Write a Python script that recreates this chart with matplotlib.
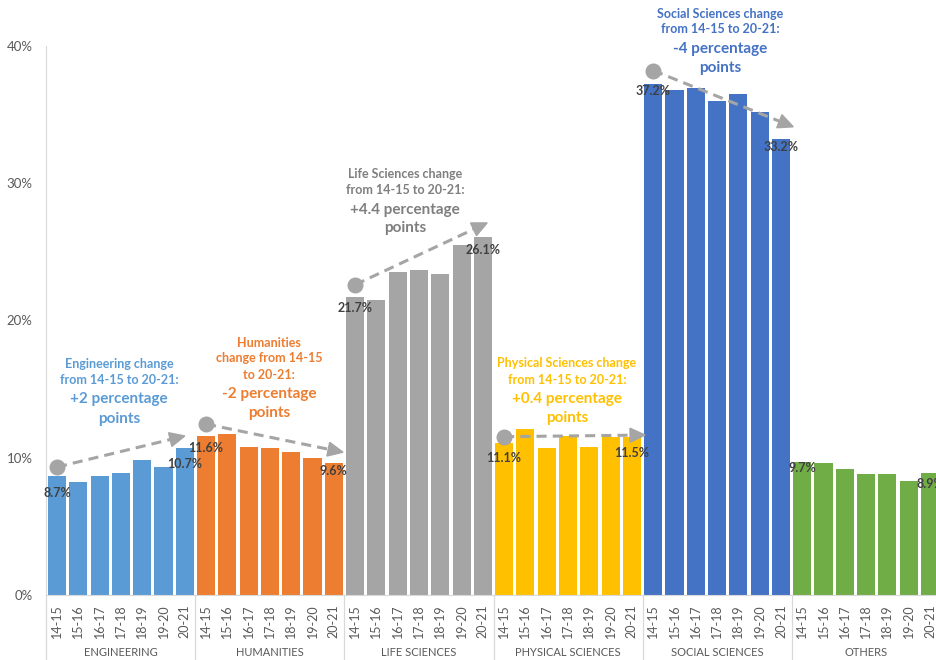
import matplotlib
matplotlib.use("Agg")
import matplotlib.pyplot as plt
import numpy as np
from matplotlib.patches import Polygon

plt.rcParams['font.family'] = ['Lato', 'DejaVu Sans']

# ---------------- data ----------------
groups = ["ENGINEERING", "HUMANITIES", "LIFE SCIENCES", "PHYSICAL SCIENCES",
          "SOCIAL SCIENCES", "OTHERS"]
years = ["14-15", "15-16", "16-17", "17-18", "18-19", "19-20", "20-21"]
engineering = [8.7, 8.2, 8.7, 8.9, 9.8, 9.3, 10.7]
humanities = [11.6, 11.7, 10.8, 10.7, 10.4, 10.0, 9.6]
life_sciences = [21.7, 21.5, 23.5, 23.7, 23.4, 25.5, 26.1]
physical_sciences = [11.1, 12.1, 10.7, 11.6, 10.8, 11.5, 11.5]
social_sciences = [37.2, 36.8, 36.9, 36.0, 36.5, 35.2, 33.2]
others = [9.7, 9.6, 9.2, 8.8, 8.8, 8.3, 8.9]
series = [engineering, humanities, life_sciences, physical_sciences,
          social_sciences, others]
y_ticks = [0, 10, 20, 30, 40]
y_tick_labels = ["0%", "10%", "20%", "30%", "40%"]

change_small = [["Engineering change", "from 14-15 to 20-21:"],
                ["Humanities", "change from 14-15", "to 20-21:"],
                ["Life Sciences change", "from 14-15 to 20-21:"],
                ["Physical Sciences change", "from 14-15 to 20-21:"],
                ["Social Sciences change", "from 14-15 to 20-21:"]]
change_big = [["+2 percentage", "points"],
              ["-2 percentage", "points"],
              ["+4.4 percentage", "points"],
              ["+0.4 percentage", "points"],
              ["-4 percentage", "points"]]

# ---------------- style ----------------
colors = ["#5B9BD5", "#ED7D31", "#A5A5A5", "#FFC000", "#4472C4", "#70AD47"]
text_colors = ["#5B9BD5", "#ED7D31", "#7F7F7F", "#FFC000", "#4472C4"]
axis_grey = "#D9D9D9"
tick_grey = "#595959"
label_dark = "#404040"
arrow_grey = "#A5A5A5"

W, H = 936, 660
fig = plt.figure(figsize=(W / 100, H / 100), dpi=100)
ax_left, ax_right = 46.4, 940.6
ax_bottom, ax_top = 595.0, 45.8
ax = fig.add_axes([ax_left / W, 1 - ax_bottom / H,
                   (ax_right - ax_left) / W, (ax_bottom - ax_top) / H])

n_years = len(years)
n_bars = n_years * len(groups)
ax.set_xlim(-0.5, n_bars - 0.5)
ax.set_ylim(0, 40)

# bars
for g, vals in enumerate(series):
    xs = np.arange(n_years) + g * n_years
    ax.bar(xs, vals, width=0.85, color=colors[g], zorder=2)

# axes styling
for s in ["top", "right"]:
    ax.spines[s].set_visible(False)
ax.spines["left"].set_color(axis_grey)
ax.spines["bottom"].set_color(axis_grey)
ax.spines["left"].set_linewidth(0.8)
ax.spines["bottom"].set_linewidth(0.8)
ax.set_yticks(y_ticks)
ax.set_yticklabels(y_tick_labels, color=tick_grey, fontsize=9.5)
ax.tick_params(axis="y", length=0, pad=10)
ax.set_xticks(np.arange(n_bars))
ax.set_xticklabels(years * len(groups), rotation=90, color=tick_grey, fontsize=9)
ax.tick_params(axis="x", length=0, pad=7)

# group separators and labels below axis
trans = ax.get_xaxis_transform()
sep_bottom = -(H - ax_bottom) / (ax_bottom - ax_top)
for g in range(len(groups) + 1):
    xsep = g * n_years - 0.5
    ax.plot([xsep, xsep], [0, sep_bottom], color=axis_grey, lw=0.9,
            transform=trans, clip_on=False)
grp_label_y = -(652 - ax_bottom) / (ax_bottom - ax_top)
for g, name in enumerate(groups):
    ax.text(g * n_years + (n_years - 1) / 2, grp_label_y, name, transform=trans,
            ha="center", va="center", color=tick_grey, fontsize=8)

# value labels (first and last year of each group)
label_drop_px = [17, 16, 12, 8, 11, 13, 15, 16, 7, 8, 6, 11]
px_per_unit = (ax_bottom - ax_top) / 40.0
k = 0
for g, vals in enumerate(series):
    for j in (0, n_years - 1):
        xb = g * n_years + j
        yv = vals[j] - label_drop_px[k] / px_per_unit
        ax.text(xb, yv, f"{vals[j]:.1f}%", ha="center", va="center",
                fontsize=9, fontweight="bold", color=label_dark, zorder=5,
                clip_on=False)
        k += 1

# change arrows
start_dy = [0.62, 0.85, 0.9, 0.43, 1.0]
end_dx = [0.0, 0.43, 0.2, 0.62, 0.58]
end_dy = [0.88, 0.8, 1.0, 0.15, 0.9]
head_len, head_w = 15.0, 14.0
for g in range(5):
    vals = series[g]
    x0, y0 = g * n_years, vals[0] + start_dy[g]
    x1, y1 = g * n_years + n_years - 1 + end_dx[g], vals[-1] + end_dy[g]
    p0 = ax.transData.transform((x0, y0))
    p1 = ax.transData.transform((x1, y1))
    d = p1 - p0
    L = np.hypot(*d)
    u = d / L
    nrm = np.array([-u[1], u[0]])
    base = p1 - u * head_len
    base_d = ax.transData.inverted().transform(base)
    ax.plot([x0, base_d[0]], [y0, base_d[1]], color=arrow_grey, lw=2.2,
            dashes=(3.3, 2.0), zorder=4, clip_on=False)
    ax.plot([x0], [y0], marker="o", ms=10.5, color=arrow_grey, zorder=4,
            clip_on=False)
    tri = np.array([p1, base + nrm * head_w / 2, base - nrm * head_w / 2])
    tri_d = ax.transData.inverted().transform(tri)
    ax.add_patch(Polygon(tri_d, closed=True, color=arrow_grey, zorder=4,
                         clip_on=False))

# change text blocks (pixel positions of line centres)
block_x = [119, 269, 405, 567, 720]
block_small_y = [[364, 380], [343, 358, 375], [174, 190], [363, 380], [14, 29]]
block_big_y = [[399, 419], [394, 413], [210, 228], [399, 418], [49, 68]]
for b in range(5):
    for line, yy in zip(change_small[b], block_small_y[b]):
        fig.text(block_x[b] / W, 1 - yy / H, line, ha="center", va="center",
                 fontsize=9, fontweight="bold", color=text_colors[b])
    for line, yy in zip(change_big[b], block_big_y[b]):
        fig.text(block_x[b] / W, 1 - yy / H, line, ha="center", va="center",
                 fontsize=11, fontweight="bold", color=text_colors[b])

fig.savefig("out.png", dpi=100)
